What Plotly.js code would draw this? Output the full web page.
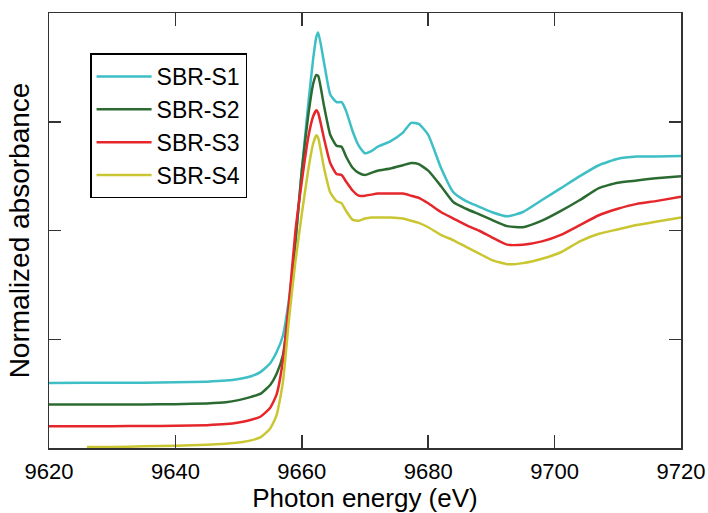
<!DOCTYPE html>
<html>
<head>
<meta charset="utf-8">
<script src="https://cdn.plot.ly/plotly-3.0.1.min.js"></script>
<style>
html,body{margin:0;padding:0;background:#fff;}
#chart{width:708px;height:513px;}
</style>
</head>
<body>
<div id="chart"></div>
<script>
const energy = [9620, 9626, 9630, 9635, 9640, 9645, 9648, 9650, 9652, 9653.5, 9655, 9656, 9657, 9658, 9659, 9660, 9661, 9661.8, 9662.3, 9662.6, 9663.5, 9664.5, 9665.5, 9666.3, 9667, 9668, 9669, 9670, 9671, 9672, 9674, 9676, 9677.3, 9678.5, 9680, 9682, 9684, 9686, 9688, 9690, 9692.5, 9695, 9698, 9701, 9704, 9707, 9710, 9713, 9716, 9720];

const sbrS1 = [0.598, 0.600, 0.600, 0.601, 0.604, 0.610, 0.620, 0.635, 0.660, 0.700, 0.780, 0.880, 1.030, 1.380, 1.900, 2.550, 3.150, 3.580, 3.780, 3.820, 3.550, 3.250, 3.180, 3.180, 3.100, 2.920, 2.780, 2.710, 2.730, 2.770, 2.820, 2.900, 2.990, 2.980, 2.880, 2.580, 2.350, 2.270, 2.220, 2.170, 2.130, 2.170, 2.280, 2.390, 2.500, 2.600, 2.660, 2.680, 2.680, 2.685];

const sbrS2 = [0.400, 0.400, 0.401, 0.401, 0.403, 0.410, 0.420, 0.440, 0.470, 0.500, 0.580, 0.680, 0.850, 1.300, 1.900, 2.550, 3.050, 3.350, 3.430, 3.420, 3.150, 2.880, 2.780, 2.770, 2.680, 2.580, 2.530, 2.510, 2.530, 2.550, 2.570, 2.600, 2.620, 2.610, 2.550, 2.410, 2.260, 2.200, 2.150, 2.100, 2.040, 2.030, 2.090, 2.180, 2.280, 2.390, 2.440, 2.460, 2.480, 2.500];

const sbrS3 = [0.200, 0.200, 0.201, 0.202, 0.205, 0.210, 0.220, 0.235, 0.260, 0.290, 0.370, 0.490, 0.800, 1.350, 2.000, 2.450, 2.850, 3.050, 3.105, 3.080, 2.850, 2.620, 2.520, 2.510, 2.450, 2.370, 2.320, 2.320, 2.330, 2.340, 2.340, 2.340, 2.320, 2.300, 2.250, 2.170, 2.110, 2.050, 2.000, 1.940, 1.870, 1.870, 1.900, 1.960, 2.050, 2.140, 2.200, 2.245, 2.270, 2.310];

const sbrS4 = [null, 0.010, 0.010, 0.015, 0.020, 0.030, 0.040, 0.050, 0.070, 0.100, 0.180, 0.300, 0.600, 1.200, 1.720, 2.150, 2.550, 2.800, 2.875, 2.850, 2.580, 2.350, 2.270, 2.250, 2.180, 2.100, 2.090, 2.110, 2.120, 2.120, 2.120, 2.110, 2.090, 2.070, 2.030, 1.960, 1.910, 1.850, 1.790, 1.730, 1.690, 1.700, 1.740, 1.800, 1.900, 1.970, 2.010, 2.050, 2.080, 2.120];

const seriesNames = ['SBR-S1', 'SBR-S2', 'SBR-S3', 'SBR-S4'];
const seriesColors = ['#3dbfc5', '#2b6b31', '#e5262b', '#c9c632'];
const seriesValues = [sbrS1, sbrS2, sbrS3, sbrS4];

const xTicks = [9620, 9640, 9660, 9680, 9700, 9720];
const yTicks = [1, 2, 3];

const traces = seriesValues.map((vals, i) => ({
  x: energy,
  y: vals,
  type: 'scatter',
  mode: 'lines',
  name: seriesNames[i],
  line: {color: seriesColors[i], width: 2.5, shape: 'spline', smoothing: 0.5},
  connectgaps: false
}));

const fontFam = 'Liberation Sans, Arial, sans-serif';
const layout = {
  width: 708, height: 513,
  margin: {l: 49, r: 27, t: 13, b: 65},
  paper_bgcolor: '#fff', plot_bgcolor: '#fff',
  font: {family: fontFam, color: '#000'},
  showlegend: true,
  legend: {
    x: 0.065, y: 0.907, xanchor: 'left', yanchor: 'top',
    bordercolor: '#000', borderwidth: 1.5, bgcolor: '#fff',
    font: {family: fontFam, size: 23, color: '#000'},
    itemwidth: 55, tracegroupgap: 0
  },
  xaxis: {
    range: [9620, 9720], tickvals: xTicks, ticktext: xTicks.map(String),
    ticks: 'inside', ticklen: 13, tickwidth: 1.5, tickcolor: '#333',
    showline: true, linecolor: '#333', linewidth: 1.5, mirror: 'ticks',
    showgrid: false, zeroline: false, automargin: false,
    ticklabelstandoff: 3,
    tickfont: {family: fontFam, size: 22, color: '#000'},
    title: {text: 'Photon energy (eV)', font: {family: fontFam, size: 26, color: '#000'}, standoff: 2}
  },
  yaxis: {
    range: [0, 4], tickvals: yTicks, showticklabels: false,
    ticks: 'inside', ticklen: 12, tickwidth: 1.5, tickcolor: '#333',
    showline: true, linecolor: '#333', linewidth: 1.5, mirror: 'ticks',
    showgrid: false, zeroline: false, automargin: false,
    title: {text: 'Normalized absorbance', font: {family: fontFam, size: 28, color: '#000'}, standoff: 9}
  }
};

Plotly.newPlot('chart', traces, layout, {displayModeBar: false, staticPlot: true});
</script>
</body>
</html>
